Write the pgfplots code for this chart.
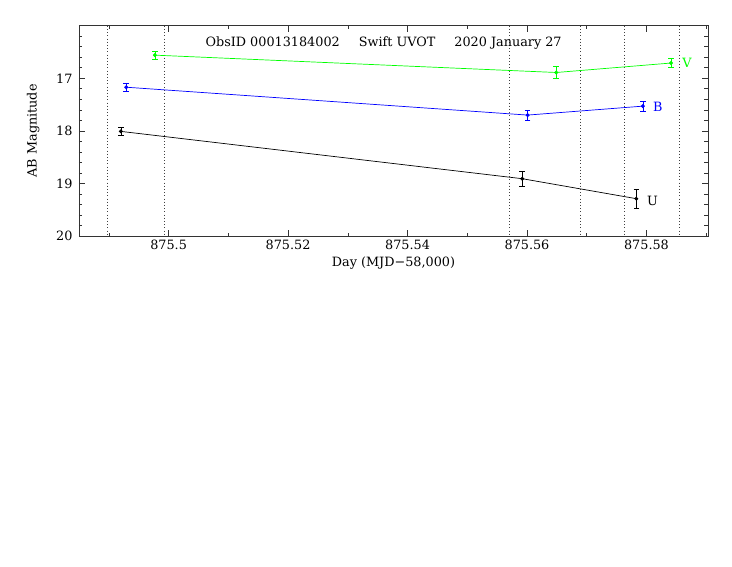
\documentclass[border=0pt]{standalone}
\usepackage{fontspec}
\setmainfont{DejaVu Serif}
\usepackage{pgfplots}
\pgfplotsset{compat=1.18}
\definecolor{vgreen}{HTML}{00FF00}
\definecolor{bblue}{HTML}{0000FF}
\newcommand{\plotfont}{\fontsize{12.8}{15}\selectfont}

\begin{document}
\begin{tikzpicture}
\useasboundingbox (0,0) rectangle (732pt,566pt);
\begin{axis}[
  at={(79pt,330pt)}, anchor=south west,
  scale only axis, width=629pt, height=210.3pt,
  xmin=-0.015, xmax=0.0903,
  ymin=16, ymax=20, y dir=reverse,
  % x is MJD - 58875.5, labelled back as MJD - 58000
  scaled x ticks=false,
  xtick={0,0.02,0.04,0.06,0.08},
  xticklabels={875.5,875.52,875.54,875.56,875.58},
  minor xtick={-0.01,0.01,0.03,0.05,0.07,0.09},
  ytick={16,17,18,19,20},
  yticklabels={,17,18,19,20},
  minor y tick num=4,
  tick align=inside,
  major tick length=6pt, minor tick length=3.5pt,
  tick style={black!80, line width=0.6pt},
  axis line style={black!80, line width=0.8pt},
  xlabel={Day (MJD−58,000)},
  ylabel={AB Magnitude},
  every axis y label/.style={at={(axis description cs:-0.073,0.5)}, rotate=90, anchor=center},
  every axis x label/.style={at={(axis description cs:0.5,0)}, anchor=center, yshift=-27pt},
  tick label style={font=\plotfont},
  yticklabel style={xshift=-3pt},
  label style={font=\plotfont},
  clip=false,
]
% exposure boundaries
\pgfplotsinvokeforeach{-0.0102,-0.0007,0.0570,0.0690,0.0763,0.0855}{
  \addplot[black!75, line width=0.7pt, dash pattern=on 0.6pt off 2.6pt, forget plot]
    coordinates {(#1,16) (#1,20)};
}

\pgfplotsset{
  lc/.style={line width=0.7pt, mark=*, mark size=1.6pt, mark options={solid},
    error bars/.cd, y dir=both, y explicit,
    error bar style={line width=0.6pt},
    error mark options={rotate=90, mark size=2.8pt, line width=0.6pt}},
}

% U
\addplot[black, lc] coordinates {
  (-0.0080,18.01) +- (0,0.08)
  (0.0592,18.91) +- (0,0.14)
  (0.0783,19.29) +- (0,0.18)
};
% B
\addplot[bblue, lc] coordinates {
  (-0.0071,17.17) +- (0,0.08)
  (0.0601,17.70) +- (0,0.09)
  (0.0794,17.53) +- (0,0.09)
};
% V
\addplot[vgreen, lc] coordinates {
  (-0.0023,16.56) +- (0,0.08)
  (0.0649,16.89) +- (0,0.11)
  (0.0841,16.71) +- (0,0.09)
};

\node[font=\plotfont, text=vgreen] at (axis cs:0.0868,16.71) {V};
\node[font=\plotfont, text=bblue] at (axis cs:0.0819,17.54) {B};
\node[font=\plotfont, text=black] at (axis cs:0.0810,19.33) {U};
\node[font=\plotfont] at (axis cs:0.0360,16.335)
  {ObsID 00013184002\hspace{19pt}Swift UVOT\hspace{19pt}2020 January 27};
\end{axis}
\end{tikzpicture}
\end{document}
